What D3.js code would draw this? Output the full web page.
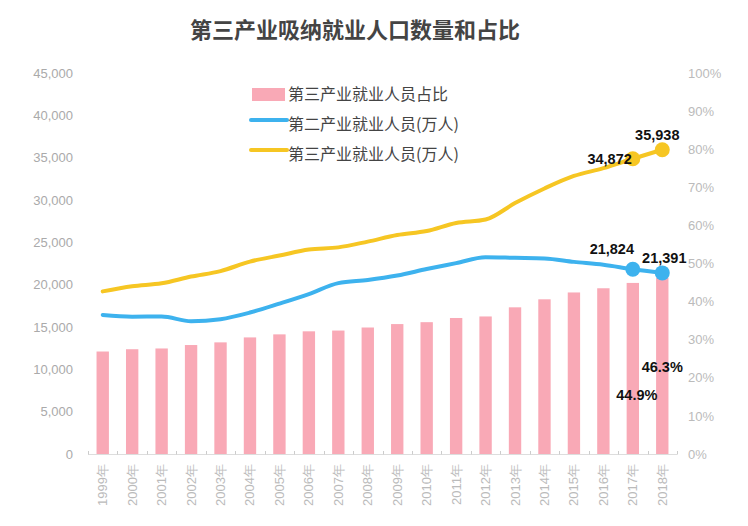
<!DOCTYPE html>
<html><head><meta charset="utf-8">
<script src="https://cdn.jsdelivr.net/npm/d3@7/dist/d3.min.js"></script>
<style>
body{margin:0;background:#fff;}
svg{display:block;}
</style></head>
<body>
<svg id="c" width="748" height="526"></svg>
<script>
const years = ["1999年","2000年","2001年","2002年","2003年","2004年","2005年","2006年","2007年","2008年","2009年","2010年","2011年","2012年","2013年","2014年","2015年","2016年","2017年","2018年"];
const tertiaryShare = [26.9,27.5,27.7,28.6,29.3,30.6,31.4,32.2,32.4,33.2,34.1,34.6,35.7,36.1,38.5,40.6,42.4,43.5,44.9,46.3];
const secondaryEmp = [16421,16219,16234,15682,15927,16709,17766,18894,20186,20553,21080,21842,22544,23241,23170,23099,22693,22350,21824,21391];
const tertiaryEmp = [19205,19823,20165,20958,21605,22725,23439,24143,24404,25087,25857,26332,27282,27690,29636,31364,32839,33757,34872,35938];
const leftTicks = [0,5000,10000,15000,20000,25000,30000,35000,40000,45000];
const rightTicks = [0,10,20,30,40,50,60,70,80,90,100];
const title = "第三产业吸纳就业人口数量和占比";
const legendNames = ["第三产业就业人员占比","第二产业就业人员(万人)","第三产业就业人员(万人)"];

const C = {pink:"#F9A9B6", blue:"#3DB2EE", yellow:"#F6C623"};
const svg = d3.select("#c");
const m = {l:88, r:677, t:73, b:454};
const numFont = "'Liberation Sans', Arial, sans-serif";
const cjk = "'Noto Sans CJK SC', sans-serif";

const x = d3.scaleBand().domain(years).range([m.l, m.r]).paddingInner(0.58).paddingOuter(0.29);
const yL = d3.scaleLinear().domain([0,45000]).range([m.b, m.t]);
const yR = d3.scaleLinear().domain([0,100]).range([m.b, m.t]);
const cx = d => x(d) + x.bandwidth()/2;

// title
svg.append("text").attr("x",355).attr("y",38).attr("text-anchor","middle")
  .attr("font-family",cjk).attr("font-weight","bold").attr("font-size",22).attr("fill","#444").text(title);

// left axis
const gL = svg.append("g").attr("transform",`translate(${m.l},0)`)
  .call(d3.axisLeft(yL).tickValues(leftTicks).tickSize(0).tickPadding(15).tickFormat(d3.format(",")));
gL.select(".domain").remove();
gL.selectAll("text").attr("font-family",numFont).attr("font-size",13).attr("fill","#aaa");

// right axis
const gR = svg.append("g").attr("transform",`translate(${m.r},0)`)
  .call(d3.axisRight(yR).tickValues(rightTicks).tickSize(0).tickPadding(11).tickFormat(d => d + "%"));
gR.select(".domain").remove();
gR.selectAll("text").attr("font-family",numFont).attr("font-size",13).attr("fill","#bbb");

// bars
svg.append("g").selectAll("rect").data(years).join("rect")
  .attr("x", d => x(d)).attr("width", x.bandwidth())
  .attr("y", (d,i) => yR(tertiaryShare[i])).attr("height", (d,i) => m.b - yR(tertiaryShare[i]))
  .attr("fill", C.pink);

// x axis
svg.append("line").attr("x1",m.l).attr("x2",m.r).attr("y1",m.b+0.5).attr("y2",m.b+0.5).attr("stroke","#ddd");
const bounds = years.map(d => x(d) - x.step()*x.paddingInner()/2).concat([m.r]);
bounds[0] = m.l;
svg.append("g").selectAll("line").data(bounds).join("line")
  .attr("x1", d => Math.round(d)+0.5).attr("x2", d => Math.round(d)+0.5)
  .attr("y1", m.b-3).attr("y2", m.b+0.5).attr("stroke","#ccc");
svg.append("g").selectAll("text").data(years).join("text")
  .attr("transform", d => `translate(${cx(d)+4.5},${m.b+10}) rotate(-90)`)
  .attr("text-anchor","end").attr("font-family",numFont).attr("font-size",13).attr("fill","#bbb").text(d => d);

// lines
const line = d3.line().x((d,i) => cx(years[i])).y(d => yL(d)).curve(d3.curveMonotoneX);
svg.append("path").datum(secondaryEmp).attr("d", line).attr("fill","none").attr("stroke",C.blue).attr("stroke-width",4).attr("stroke-linecap","round");
svg.append("path").datum(tertiaryEmp).attr("d", line).attr("fill","none").attr("stroke",C.yellow).attr("stroke-width",4).attr("stroke-linecap","round");

// end dots
[ [secondaryEmp, C.blue], [tertiaryEmp, C.yellow] ].forEach(([arr,col]) => {
  [18,19].forEach(i => {
    svg.append("circle").attr("cx", cx(years[i])).attr("cy", yL(arr[i])).attr("r",7.5).attr("fill",col);
  });
});

// value labels
const fmt = d3.format(",");
const lab = (tx, ty, anchor, txt) => svg.append("text").attr("x",tx).attr("y",ty).attr("text-anchor",anchor)
  .attr("font-family",numFont).attr("font-weight","bold").attr("font-size",14.5).attr("fill","#111").text(txt);
lab(cx(years[18]) - 1, yL(tertiaryEmp[18]) + 5, "end", fmt(tertiaryEmp[18]));
lab(cx(years[19]) - 5, yL(tertiaryEmp[19]) - 10, "middle", fmt(tertiaryEmp[19]));
lab(cx(years[18]) - 21, yL(secondaryEmp[18]) - 15, "middle", fmt(secondaryEmp[18]));
lab(cx(years[19]) + 2, yL(secondaryEmp[19]) - 10, "middle", fmt(secondaryEmp[19]));
lab(cx(years[18]) + 4, yR(tertiaryShare[18]) + 117, "middle", tertiaryShare[18] + "%");
lab(cx(years[19]), yR(tertiaryShare[19]) + 94, "middle", tertiaryShare[19] + "%");

// legend
const lg = svg.append("g").attr("transform","translate(251,0)");
lg.append("rect").attr("x",1).attr("y",88).attr("width",33).attr("height",13).attr("fill",C.pink);
lg.append("line").attr("x1",0).attr("x2",36).attr("y1",120).attr("y2",120).attr("stroke",C.blue).attr("stroke-width",4).attr("stroke-linecap","round");
lg.append("line").attr("x1",0).attr("x2",36).attr("y1",150).attr("y2",150).attr("stroke",C.yellow).attr("stroke-width",4).attr("stroke-linecap","round");
legendNames.forEach((n,i) => {
  lg.append("text").attr("x",37).attr("y",94 + i*30).attr("dy","0.35em")
    .attr("font-family",cjk).attr("font-size",16).attr("fill","#444").text(n);
});
</script>
</body></html>
